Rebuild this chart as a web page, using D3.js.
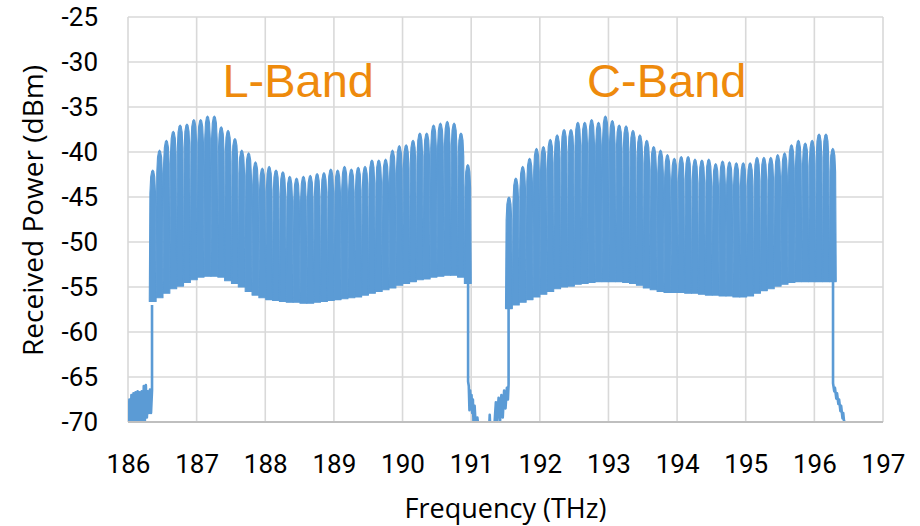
<!DOCTYPE html>
<html>
<head>
<meta charset="utf-8">
<script src="https://cdn.jsdelivr.net/npm/d3@7"></script>
<style>
  html, body { margin: 0; padding: 0; background: #fff; }
  svg { display: block; }
</style>
</head>
<body>
<svg id="chart" width="920" height="526"></svg>
<script>
// ---------------- DATA ----------------
const xTicks = [186, 187, 188, 189, 190, 191, 192, 193, 194, 195, 196, 197];
const yTicks = [-25, -30, -35, -40, -45, -50, -55, -60, -65, -70];

// L-Band channel grid (THz) and per-channel peak / floor (dBm)
const lBandStart = 186.36, lBandSpacing = 0.0998;
const lBandPeak = [-42.0, -39.8, -38.7, -37.7, -37.0, -36.9, -36.4, -36.4, -36.0, -36.0,
  -37.2, -37.6, -38.5, -39.8, -40.1, -41.1, -41.8, -41.6, -42.0, -42.2,
  -42.7, -42.9, -42.7, -42.6, -42.4, -42.3, -41.9, -42.0, -41.6, -41.9,
  -41.7, -41.6, -40.9, -40.9, -40.8, -39.8, -39.3, -39.2, -38.7, -37.9,
  -37.9, -37.0, -36.8, -36.6, -36.8, -37.9, -41.4];
const lBandFloor = [-56.6, -56.2, -55.7, -55.2, -54.9, -54.5, -54.2, -53.9, -53.8, -53.8,
  -53.9, -54.3, -54.6, -55.0, -55.5, -55.9, -56.2, -56.4, -56.5, -56.6,
  -56.7, -56.7, -56.8, -56.8, -56.7, -56.6, -56.5, -56.4, -56.3, -56.2,
  -56.1, -55.9, -55.7, -55.5, -55.3, -55.1, -54.8, -54.6, -54.4, -54.2,
  -54.1, -53.9, -53.8, -53.7, -53.7, -53.9, -54.6];

// C-Band channel grid (THz) and per-channel peak / floor (dBm)
const cBandStart = 191.55, cBandSpacing = 0.1004;
const cBandPeak = [-45.0, -42.9, -41.6, -40.7, -39.6, -39.4, -38.6, -38.1, -37.5, -37.5,
  -36.7, -36.7, -36.4, -36.7, -36.0, -36.5, -37.0, -37.1, -37.6, -38.1,
  -38.7, -39.4, -39.8, -40.3, -40.7, -40.5, -40.5, -40.8, -40.9, -40.8,
  -41.3, -41.0, -41.1, -41.2, -41.2, -41.2, -40.6, -40.6, -40.6, -40.3,
  -40.1, -39.2, -38.7, -39.0, -38.7, -38.0, -38.0, -39.6];
const cBandFloor = [-57.4, -57.0, -56.7, -56.4, -56.1, -55.8, -55.5, -55.2, -55.0, -54.9,
  -54.7, -54.6, -54.5, -54.4, -54.4, -54.4, -54.4, -54.5, -54.6, -54.8,
  -55.1, -55.3, -55.5, -55.6, -55.6, -55.6, -55.7, -55.7, -55.8, -55.9,
  -55.9, -56.0, -56.0, -56.1, -56.1, -56.0, -55.7, -55.4, -55.2, -54.9,
  -54.7, -54.5, -54.4, -54.4, -54.4, -54.4, -54.4, -54.4];

// Out-of-band noise floor traces [THz, dBm]
const noiseLeft = [[186.00, -67.8], [186.01, -71], [186.02, -67.5], [186.035, -71], [186.05, -67.0],
  [186.065, -71], [186.08, -66.8], [186.095, -71], [186.11, -66.7], [186.125, -71],
  [186.14, -66.6], [186.155, -71], [186.17, -66.7], [186.185, -71], [186.20, -66.6],
  [186.215, -70.5], [186.23, -66.0], [186.245, -70], [186.26, -65.9], [186.275, -69.5],
  [186.29, -66.6], [186.305, -69], [186.32, -66.4], [186.335, -69], [186.35, -66.5],
  [186.35, -57.0]];
const noiseMid = [[190.955, -54.6], [190.955, -65.5], [190.965, -66.0], [190.975, -68.7],
  [190.985, -66.5], [190.995, -68.5], [191.005, -67.0], [191.015, -69.0], [191.025, -67.5],
  [191.035, -70.5], [191.05, -68.2], [191.07, -71], [191.09, -69.5], [191.11, -71],
  [191.13, -70.5], [191.15, -71], [191.19, -71], [191.23, -71], [191.26, -71],
  [191.27, -69.2], [191.28, -71], [191.32, -71], [191.34, -70.2], [191.36, -67.8],
  [191.37, -70.5], [191.40, -67.3], [191.42, -70], [191.44, -67.0], [191.46, -69.5],
  [191.48, -66.5], [191.50, -68.5], [191.52, -66.2], [191.535, -67.5], [191.545, -65.8],
  [191.545, -57.4]];
const noiseRight = [[196.272, -54.4], [196.272, -65.7], [196.29, -66.6], [196.30, -66.2],
  [196.32, -67.4], [196.33, -66.8], [196.35, -68.0], [196.36, -67.5], [196.38, -68.8],
  [196.39, -68.2], [196.41, -69.6], [196.42, -69.0], [196.44, -70.5], [196.45, -70],
  [196.47, -71]];

// Band labels
const bandLabels = [{ text: "L-Band", f: 188.48, v: -33.9 }, { text: "C-Band", f: 193.85, v: -33.9 }];

// ---------------- CHART ----------------
const plot = { left: 128, right: 883, top: 17, bottom: 422 };
const svg = d3.select("#chart");

const x = d3.scaleLinear().domain([186, 197]).range([plot.left, plot.right]);
const y = d3.scaleLinear().domain([-70, -25]).range([plot.bottom, plot.top]);

const blue = "#5b9bd5";
const gridColor = "#d9d9d9";
const fontFam = "'Open Sans', 'Noto Sans', sans-serif";
const tickFam = "Roboto, 'Open Sans', sans-serif";

// gridlines
const grid = svg.append("g");
grid.selectAll("line.h").data(yTicks.filter(d => d !== -70)).join("line")
  .attr("x1", plot.left).attr("x2", plot.right)
  .attr("y1", d => y(d)).attr("y2", d => y(d))
  .attr("stroke", gridColor).attr("stroke-width", 1.6);
grid.selectAll("line.v").data(xTicks).join("line")
  .attr("x1", d => x(d)).attr("x2", d => x(d))
  .attr("y1", plot.top).attr("y2", plot.bottom)
  .attr("stroke", gridColor).attr("stroke-width", 1.6);

// clip
svg.append("clipPath").attr("id", "clip").append("rect")
  .attr("x", plot.left).attr("y", plot.top)
  .attr("width", plot.right - plot.left).attr("height", plot.bottom - plot.top);

const dataG = svg.append("g").attr("clip-path", "url(#clip)");

// channel shape (relative offsets: THz from centre, dB from peak; 't' = floor)
const shape = [[-0.05, "t"], [-0.041, -2.6], [-0.03, -0.8], [-0.015, -0.15], [0, 0],
  [0.015, -0.15], [0.03, -0.8], [0.041, -2.6], [0.05, "t"]];
const chanLine = d3.line().x(d => x(d[0])).y(d => y(d[1]));

function channels(start, spacing, peaks, floors) {
  return peaks.map((p, i) => {
    const f = start + i * spacing;
    const t = floors[i];
    return shape.map(s => [f + s[0], s[1] === "t" ? t : p + s[1]]);
  });
}
const allChannels = channels(lBandStart, lBandSpacing, lBandPeak, lBandFloor)
  .concat(channels(cBandStart, cBandSpacing, cBandPeak, cBandFloor));

dataG.selectAll("path.ch").data(allChannels).join("path")
  .attr("class", "ch")
  .attr("d", d => chanLine(d) + "Z")
  .attr("fill", blue)
  .attr("stroke", blue)
  .attr("stroke-width", 1.1)
  .attr("stroke-linejoin", "round");

// noise traces
dataG.selectAll("path.noise").data([noiseLeft, noiseMid, noiseRight]).join("path")
  .attr("class", "noise")
  .attr("d", d => chanLine(d))
  .attr("fill", "none")
  .attr("stroke", blue)
  .attr("stroke-width", 2.6)
  .attr("stroke-linejoin", "round");

// bottom axis line
svg.append("line")
  .attr("x1", plot.left).attr("x2", plot.right)
  .attr("y1", plot.bottom).attr("y2", plot.bottom)
  .attr("stroke", "#bfbfbf").attr("stroke-width", 2);

// axes labels
const yAxis = svg.append("g").attr("transform", `translate(${plot.left},0)`)
  .call(d3.axisLeft(y).tickValues(yTicks).tickSize(0).tickPadding(30).tickFormat(d => d));
yAxis.select(".domain").remove();
yAxis.selectAll("text").attr("font-family", tickFam).attr("font-size", 26).attr("fill", "#000");

const xAxis = svg.append("g").attr("transform", `translate(0,${plot.bottom})`)
  .call(d3.axisBottom(x).tickValues(xTicks).tickSize(0).tickPadding(33).tickFormat(d => d));
xAxis.select(".domain").remove();
xAxis.selectAll("text").attr("font-family", tickFam).attr("font-size", 26).attr("fill", "#000");

// titles
svg.append("text")
  .attr("transform", `translate(43,${(plot.top + plot.bottom) / 2 - 9}) rotate(-90)`)
  .attr("text-anchor", "middle")
  .attr("font-family", fontFam).attr("font-size", 28).attr("fill", "#000")
  .text("Received Power (dBm)");
svg.append("text")
  .attr("x", (plot.left + plot.right) / 2).attr("y", 518)
  .attr("text-anchor", "middle")
  .attr("font-family", fontFam).attr("font-size", 27).attr("fill", "#000")
  .text("Frequency (THz)");

// band labels
svg.selectAll("text.band").data(bandLabels).join("text")
  .attr("class", "band")
  .attr("x", d => x(d.f)).attr("y", d => y(d.v))
  .attr("text-anchor", "middle")
  .attr("font-family", "'Liberation Sans', Arial, sans-serif")
  .attr("font-size", 47)
  .attr("fill", "#ee8a0c")
  .text(d => d.text);
</script>
</body>
</html>
